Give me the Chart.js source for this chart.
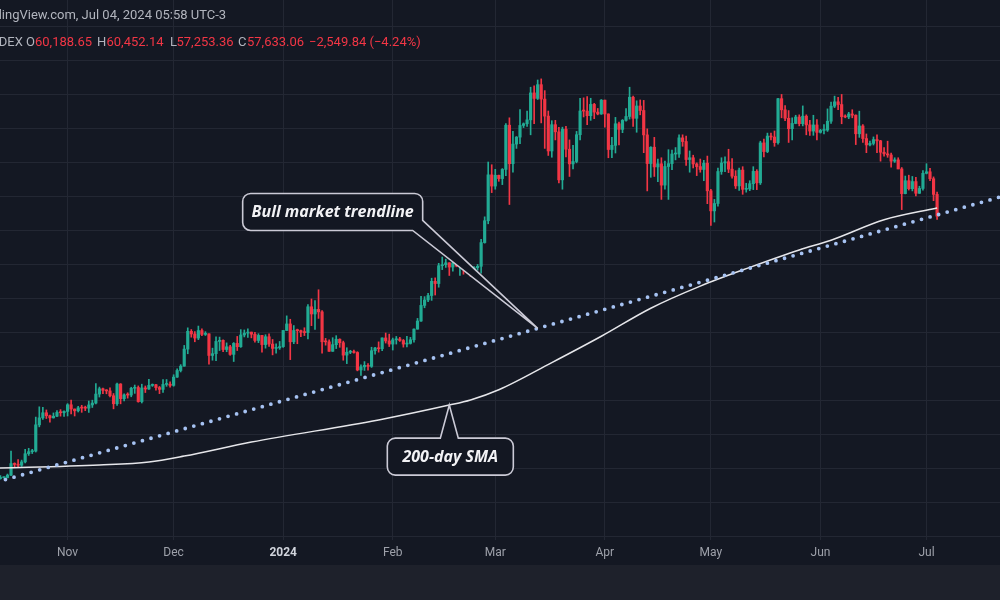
<!DOCTYPE html>
<html>
<head>
<meta charset="utf-8">
<title>BTC daily</title>
<script src="https://cdn.jsdelivr.net/npm/chart.js@4.4.1/dist/chart.umd.min.js"></script>
<style>
  html, body { margin: 0; padding: 0; background: #1e212b; }
  #wrap { position: relative; width: 1000px; height: 565px; background: #141823; overflow: hidden; }
  #box { position: absolute; left: 0; top: 0; width: 1000px; height: 565px; }
  .hdr { position: absolute; font-family: Roboto, sans-serif; font-size: 13px; color: #b2b5be; white-space: nowrap; }
  .red { color: #f23645; }
</style>
</head>
<body>
<div id="wrap">
  <div id="box"><canvas id="chart"></canvas></div>
  <div class="hdr" style="left:-24px; top:7px;">TradingView.com, Jul 04, 2024 05:58 UTC-3</div>
  <div class="hdr" style="left:-14px; top:34px;">INDEX</div>
  <div class="hdr" style="left:26px; top:34px;">O</div>
  <div class="hdr red" style="left:35px; top:34px;">60,188.65</div>
  <div class="hdr" style="left:97px; top:34px;">H</div>
  <div class="hdr red" style="left:106.5px; top:34px;">60,452.14</div>
  <div class="hdr" style="left:170px; top:34px;">L</div>
  <div class="hdr red" style="left:176.5px; top:34px;">57,253.36</div>
  <div class="hdr" style="left:238px; top:34px;">C</div>
  <div class="hdr red" style="left:247px; top:34px;">57,633.06</div>
  <div class="hdr red" style="left:309px; top:34px;">−2,549.84 (−4.24%)</div>
</div>
<script>
// daily candles, prices in thousands of USD, first candle 2023-10-13
const firstCandle = '2023-10-13';

const opens = [
  // Oct
  26.76, 26.86, 26.87, 27.16, 28.52, 28.42, 28.33, 28.72, 29.68, 29.92, 29.99, 33.08, 33.90, 34.50, 34.15, 33.90, 34.09, 34.54, 34.50,
  // Nov
  34.66, 35.44, 34.94, 34.73, 35.08, 35.05, 35.04, 35.42, 35.64, 36.70, 37.32, 37.14, 37.07, 36.50, 35.56, 37.88, 36.16, 36.60, 36.58, 37.38, 37.47, 35.81, 37.42, 37.29, 37.72, 37.80, 37.46, 37.25, 37.83, 37.86,
  // Dec
  37.72, 38.69, 39.47, 39.98, 41.99, 44.08, 43.77, 43.29, 44.17, 43.72, 43.79, 41.24, 41.45, 42.89, 43.02, 41.94, 42.26, 41.37, 42.66, 42.27, 43.65, 43.87, 43.99, 43.74, 43.01, 43.60, 42.52, 43.44, 42.58, 42.07, 42.14,
  // Jan
  42.28, 44.18, 44.95, 42.85, 44.18, 44.16, 43.97, 43.93, 46.97, 46.12, 46.66, 46.37, 42.85, 42.84, 41.73, 42.51, 43.15, 42.74, 41.28, 41.62, 41.67, 41.59, 39.53, 39.90, 40.08, 39.96, 41.80, 42.12, 42.03, 43.30, 42.95,
  // Feb
  42.58, 43.08, 43.19, 43.00, 42.58, 42.66, 43.09, 44.34, 45.29, 47.13, 47.77, 48.29, 49.96, 49.70, 51.80, 51.92, 52.14, 51.64, 52.13, 51.78, 52.28, 51.86, 51.30, 50.74, 51.57, 51.73, 54.52, 57.09, 62.49,
  // Mar
  61.17, 62.44, 62.05, 63.13, 68.33, 63.80, 66.11, 66.93, 68.30, 68.50, 68.96, 72.13, 71.48, 73.10, 71.40, 69.40, 65.30, 68.39, 67.55, 61.90, 67.86, 65.50, 63.78, 64.06, 67.21, 70.00, 69.99, 69.45, 70.78, 69.87, 69.65,
  // Apr
  71.28, 69.65, 65.47, 65.96, 68.50, 67.84, 68.90, 69.36, 71.62, 69.14, 70.59, 70.06, 67.19, 63.82, 65.74, 63.42, 63.79, 61.28, 63.47, 63.81, 64.94, 64.94, 66.84, 66.41, 64.29, 64.50, 63.77, 63.46, 63.12, 63.86,
  // May
  60.61, 58.25, 59.12, 62.88, 63.89, 64.03, 63.16, 62.33, 61.19, 63.05, 60.79, 60.83, 61.45, 62.90, 61.55, 66.25, 65.23, 67.05, 66.94, 66.28, 71.45, 70.14, 69.14, 67.92, 68.54, 69.29, 68.51, 69.39, 68.37, 67.64, 68.36,
  // Jun
  67.49, 67.71, 67.76, 68.80, 70.57, 71.08, 70.76, 69.34, 69.30, 69.65, 69.51, 67.32, 68.24, 66.76, 66.01, 66.19, 66.64, 66.49, 65.15, 64.96, 64.83, 64.10, 64.25, 63.18, 60.28, 61.80, 60.86, 61.70, 60.32, 60.89,
  // Jul
  62.67, 62.85, 62.03, 60.19
];
const highs = [
  27.10, 26.97, 27.29, 30.00, 28.61, 28.98, 28.93, 30.21, 30.32, 30.20, 33.99, 35.20, 35.13, 34.83, 34.24, 34.48, 34.75, 34.87, 34.72,
  35.57, 35.98, 34.94, 35.26, 35.38, 35.28, 35.88, 35.98, 37.93, 37.52, 37.41, 37.22, 37.42, 36.76, 37.98, 37.93, 36.73, 36.85, 37.50, 37.76, 37.66, 37.86, 37.65, 38.42, 37.89, 37.84, 37.60, 38.40, 38.41, 38.15,
  38.97, 39.68, 40.16, 42.42, 44.49, 44.29, 44.05, 44.70, 44.37, 44.04, 43.80, 42.10, 43.43, 43.40, 43.09, 42.72, 42.43, 42.76, 43.48, 44.28, 44.24, 44.37, 43.99, 43.95, 43.80, 43.60, 43.68, 43.80, 43.12, 42.61, 42.89,
  44.19, 45.90, 45.50, 44.76, 44.34, 44.23, 44.50, 47.22, 47.89, 47.70, 48.97, 46.52, 43.25, 43.07, 43.33, 43.57, 43.20, 42.93, 42.15, 41.85, 41.88, 41.68, 40.13, 40.52, 40.29, 42.21, 42.20, 42.84, 43.31, 43.88, 43.75,
  43.29, 43.48, 43.38, 43.12, 43.49, 43.37, 44.37, 45.60, 48.20, 48.16, 48.55, 50.33, 50.37, 52.08, 52.82, 52.57, 52.16, 52.36, 52.49, 52.95, 52.37, 52.02, 51.54, 51.70, 51.95, 54.90, 57.55, 64.00, 63.68,
  63.14, 62.46, 63.23, 68.51, 69.20, 67.60, 67.00, 70.17, 68.60, 69.98, 72.80, 72.95, 73.65, 73.78, 72.40, 70.00, 68.86, 68.90, 68.09, 68.10, 68.20, 66.60, 65.95, 67.60, 71.50, 71.55, 71.70, 71.50, 70.90, 70.30, 71.35,
  71.30, 69.67, 66.90, 69.25, 68.70, 69.00, 70.30, 72.80, 71.75, 71.20, 71.30, 71.25, 67.90, 65.80, 66.90, 64.35, 64.50, 64.10, 65.45, 65.40, 65.70, 67.20, 67.20, 67.05, 65.30, 64.80, 63.90, 64.35, 64.20, 64.70,
  60.80, 59.60, 63.30, 64.50, 64.60, 65.50, 64.40, 62.98, 63.30, 63.45, 61.50, 61.80, 63.45, 63.10, 66.45, 66.70, 67.40, 67.40, 67.65, 71.50, 71.95, 70.65, 70.05, 69.20, 69.50, 69.55, 70.60, 69.55, 68.90, 69.50, 69.00,
  67.85, 68.40, 70.25, 71.05, 71.75, 71.60, 71.95, 69.55, 69.85, 70.15, 69.55, 69.98, 68.40, 67.30, 66.45, 66.95, 67.20, 66.55, 65.70, 66.45, 65.05, 64.50, 64.50, 63.35, 62.35, 62.45, 62.30, 62.20, 61.15, 63.00,
  63.80, 63.25, 62.25, 60.45
];
const lows = [
  26.70, 26.81, 26.82, 27.11, 28.11, 28.14, 28.18, 28.60, 29.48, 29.70, 29.88, 32.84, 33.71, 33.82, 33.40, 33.87, 34.05, 34.10, 34.08,
  34.12, 34.35, 34.12, 34.59, 34.55, 34.75, 34.54, 35.12, 35.55, 36.35, 36.74, 36.73, 36.35, 34.96, 35.36, 35.55, 35.88, 36.22, 36.38, 36.78, 35.74, 35.65, 36.88, 37.25, 37.60, 37.16, 36.75, 36.88, 37.61, 37.50,
  37.62, 38.65, 39.30, 39.98, 41.44, 43.39, 42.85, 43.10, 43.57, 43.59, 40.23, 40.68, 40.64, 41.82, 41.70, 41.68, 41.26, 40.53, 41.82, 42.19, 43.42, 43.35, 43.31, 42.79, 42.75, 41.63, 42.10, 42.30, 41.31, 41.52, 41.96,
  42.19, 44.17, 40.75, 42.63, 42.62, 43.45, 43.58, 43.20, 44.75, 44.30, 45.60, 41.50, 42.45, 41.72, 41.72, 42.05, 42.20, 40.68, 40.28, 41.45, 41.50, 39.43, 38.90, 39.48, 39.51, 39.83, 41.40, 41.63, 41.80, 42.70, 42.29,
  41.88, 42.58, 42.88, 42.22, 42.26, 42.58, 42.79, 44.33, 45.25, 46.85, 47.56, 47.72, 48.35, 49.27, 51.34, 51.60, 50.65, 51.17, 51.67, 50.65, 50.80, 50.94, 50.53, 50.57, 51.28, 50.91, 54.45, 56.73, 60.40,
  60.80, 61.73, 61.34, 62.40, 59.00, 62.80, 65.60, 66.16, 68.05, 68.20, 67.20, 68.50, 71.35, 68.60, 65.60, 64.77, 64.56, 66.60, 61.55, 60.80, 64.60, 62.30, 63.20, 63.90, 66.60, 69.30, 68.38, 68.90, 69.10, 69.55, 69.60,
  68.10, 64.50, 64.50, 65.06, 66.00, 67.45, 68.80, 69.05, 68.20, 67.50, 69.55, 65.10, 60.60, 62.20, 62.30, 61.70, 59.60, 60.80, 59.60, 63.10, 64.25, 64.55, 65.85, 63.60, 62.80, 63.30, 62.40, 62.80, 61.80, 59.10,
  56.55, 56.94, 58.80, 62.55, 62.85, 62.75, 62.10, 60.88, 60.65, 60.20, 60.45, 60.63, 60.75, 60.75, 61.35, 64.60, 65.10, 66.60, 65.85, 66.10, 69.20, 68.85, 66.30, 66.60, 68.50, 68.25, 68.25, 67.20, 67.12, 67.14, 66.60,
  67.40, 67.30, 67.60, 68.55, 70.40, 70.15, 68.50, 69.20, 69.10, 69.20, 66.05, 66.90, 66.30, 65.10, 65.88, 66.00, 65.10, 64.10, 64.70, 64.55, 63.40, 63.95, 63.20, 58.40, 60.25, 60.70, 60.60, 60.00, 60.30, 60.70,
  62.60, 61.80, 59.45, 57.25
];
const closes = [
  26.86, 26.87, 27.16, 28.52, 28.42, 28.33, 28.72, 29.68, 29.92, 29.99, 33.08, 33.90, 34.50, 34.15, 33.90, 34.09, 34.54, 34.50, 34.66,
  35.44, 34.94, 34.73, 35.08, 35.05, 35.04, 35.42, 35.64, 36.70, 37.32, 37.14, 37.07, 36.50, 35.56, 37.88, 36.16, 36.60, 36.58, 37.38, 37.47, 35.81, 37.42, 37.29, 37.72, 37.80, 37.46, 37.25, 37.83, 37.86, 37.72,
  38.69, 39.47, 39.98, 41.99, 44.08, 43.77, 43.29, 44.17, 43.72, 43.79, 41.24, 41.45, 42.89, 43.02, 41.94, 42.26, 41.37, 42.66, 42.27, 43.65, 43.87, 43.99, 43.74, 43.01, 43.60, 42.52, 43.44, 42.58, 42.07, 42.14, 42.28,
  44.18, 44.95, 42.85, 44.18, 44.16, 43.97, 43.93, 46.97, 46.12, 46.66, 46.37, 42.85, 42.84, 41.73, 42.51, 43.15, 42.74, 41.28, 41.62, 41.67, 41.59, 39.53, 39.90, 40.08, 39.96, 41.80, 42.12, 42.03, 43.30, 42.95, 42.58,
  43.08, 43.19, 43.00, 42.58, 42.66, 43.09, 44.34, 45.29, 47.13, 47.77, 48.29, 49.96, 49.70, 51.80, 51.92, 52.14, 51.64, 52.13, 51.78, 52.28, 51.86, 51.30, 50.74, 51.57, 51.73, 54.52, 57.09, 62.49, 61.17,
  62.44, 62.05, 63.13, 68.33, 63.80, 66.11, 66.93, 68.30, 68.50, 68.96, 72.13, 71.48, 73.10, 71.40, 69.40, 65.30, 68.39, 67.55, 61.90, 67.86, 65.50, 63.78, 64.06, 67.21, 70.00, 69.99, 69.45, 70.78, 69.87, 69.65, 71.28,
  69.65, 65.47, 65.96, 68.50, 67.84, 68.90, 69.36, 71.62, 69.14, 70.59, 70.06, 67.19, 63.82, 65.74, 63.42, 63.79, 61.28, 63.47, 63.81, 64.94, 64.94, 66.84, 66.41, 64.29, 64.50, 63.77, 63.46, 63.12, 63.86, 60.61,
  58.25, 59.12, 62.88, 63.89, 64.03, 63.16, 62.33, 61.19, 63.05, 60.79, 60.83, 61.45, 62.90, 61.55, 66.25, 65.23, 67.05, 66.94, 66.28, 71.45, 70.14, 69.14, 67.92, 68.54, 69.29, 68.51, 69.39, 68.37, 67.64, 68.36, 67.49,
  67.71, 67.76, 68.80, 70.57, 71.08, 70.76, 69.34, 69.30, 69.65, 69.51, 67.32, 68.24, 66.76, 66.01, 66.19, 66.64, 66.49, 65.15, 64.96, 64.83, 64.10, 64.25, 63.18, 60.28, 61.80, 60.86, 61.70, 60.32, 60.89, 62.67,
  62.85, 62.03, 60.19, 57.63
];

// 200-day SMA at a few dates
const smaDates = ['2023-10-11', '2023-11-10', '2023-11-24', '2023-12-04', '2023-12-23', '2024-01-28', '2024-02-17', '2024-02-23', '2024-03-02', '2024-03-17', '2024-03-31', '2024-04-14', '2024-04-28', '2024-05-12', '2024-05-26', '2024-06-04', '2024-06-19', '2024-07-04'];
const smaValues = [27.97, 28.35, 28.7, 29.4, 31.05, 33.65, 35.4, 36.0, 37.2, 40.4, 43.5, 46.8, 49.4, 51.6, 53.65, 54.8, 57.2, 58.6];

// bull market trendline end points
const trendDates = ['2023-10-12', '2024-07-22'];
const trendValues = [26.35, 59.9];

// x axis
const tickDates = ['2023-11-01', '2023-12-01', '2024-01-01', '2024-02-01', '2024-03-01', '2024-04-01', '2024-05-01', '2024-06-01', '2024-07-01'];
const tickLabels = ['Nov', 'Dec', '2024', 'Feb', 'Mar', 'Apr', 'May', 'Jun', 'Jul'];
const priceLines = [20, 24, 28, 32, 36, 40, 44, 48, 52, 56, 60, 64, 68, 72, 76, 80];

// callouts: label, anchor date, anchor price
const calloutLabels = ['Bull market trendline', '200-day SMA'];
const calloutDates = ['2024-03-13', '2024-02-17'];
const calloutValues = [44.42, 35.4];

const GREEN = '#22ab94';
const RED = '#f23645';

const dayOf = s => (Date.parse(s) - Date.parse('2023-10-01')) / 864e5;
const day0 = dayOf(firstCandle);
const colorOf = i => closes[i] >= opens[i] ? GREEN : RED;

const wicks = lows.map((l, i) => ({ x: day0 + i, y: [l, highs[i]] }));
const bodies = opens.map((o, i) => ({ x: day0 + i, y: [o, closes[i]] }));
const sma = smaDates.map((d, i) => ({ x: dayOf(d), y: smaValues[i] }));
const trend = trendDates.map((d, i) => ({ x: dayOf(d), y: trendValues[i] }));
const tickDays = tickDates.map(dayOf);

function roundedBox(ctx, l, t, r, b, rad, tail) {
  ctx.beginPath();
  ctx.moveTo(l + rad, t);
  if (tail.side === 'top') {
    ctx.lineTo(tail.a, t);
    ctx.lineTo(tail.tip[0], tail.tip[1]);
    ctx.lineTo(tail.b, t);
  }
  ctx.lineTo(r - rad, t);
  ctx.arcTo(r, t, r, t + rad, rad);
  if (tail.side === 'corner') {
    ctx.lineTo(r, tail.a);
    ctx.lineTo(tail.tip[0], tail.tip[1]);
    ctx.lineTo(tail.b, b);
  } else {
    ctx.lineTo(r, b - rad);
    ctx.arcTo(r, b, r - rad, b, rad);
  }
  ctx.lineTo(l + rad, b);
  ctx.arcTo(l, b, l, b - rad, rad);
  ctx.lineTo(l, t + rad);
  ctx.arcTo(l, t, l + rad, t, rad);
  ctx.closePath();
}

const callouts = {
  id: 'callouts',
  afterDraw(chart) {
    const { ctx } = chart;
    const x = chart.scales.x, y = chart.scales.y;
    ctx.save();
    ctx.lineWidth = 1.6;
    ctx.strokeStyle = '#cbcad6';
    ctx.font = 'italic bold 16px "Open Sans", sans-serif';
    ctx.textAlign = 'center';
    ctx.textBaseline = 'middle';

    // trendline callout, tail from the lower right corner
    let tx = x.getPixelForValue(dayOf(calloutDates[0]));
    let ty = y.getPixelForValue(calloutValues[0]);
    let l = tx - 295, r = tx - 115, t = ty - 135, b = ty - 98;
    roundedBox(ctx, l, t, r, b, 8, { side: 'corner', a: ty - 108, b: tx - 125, tip: [tx, ty] });
    ctx.fillStyle = '#131722';
    ctx.fill();
    ctx.stroke();
    ctx.fillStyle = '#f2f2f5';
    ctx.fillText(calloutLabels[0], (l + r) / 2, (t + b) / 2 + 1);

    // SMA callout, tail from the top edge
    tx = x.getPixelForValue(dayOf(calloutDates[1]));
    ty = y.getPixelForValue(calloutValues[1]);
    l = tx - 62; r = tx + 64; t = ty + 33; b = ty + 70;
    roundedBox(ctx, l, t, r, b, 8, { side: 'top', a: tx - 9, b: tx + 9, tip: [tx, ty] });
    ctx.fillStyle = '#131722';
    ctx.fill();
    ctx.stroke();
    ctx.fillStyle = '#f2f2f5';
    ctx.fillText(calloutLabels[1], (l + r) / 2, (t + b) / 2 + 1);
    ctx.restore();
  }
};

new Chart(document.getElementById('chart'), {
  type: 'bar',
  data: {
    datasets: [
      {
        type: 'line',
        data: trend,
        borderColor: '#a6c2f2',
        borderWidth: 3.8,
        borderDash: [0, 8.9],
        borderCapStyle: 'round',
        pointRadius: 0,
        order: 0
      },
      {
        type: 'line',
        data: sma,
        borderColor: '#e6e6ea',
        borderWidth: 1.5,
        pointRadius: 0,
        cubicInterpolationMode: 'monotone',
        order: 0
      },
      {
        data: wicks,
        backgroundColor: ctx => colorOf(ctx.dataIndex),
        barThickness: 1,
        grouped: false,
        order: 1
      },
      {
        data: bodies,
        backgroundColor: ctx => colorOf(ctx.dataIndex),
        barThickness: 2.5,
        minBarLength: 1,
        grouped: false,
        order: 1
      }
    ]
  },
  options: {
    responsive: true,
    maintainAspectRatio: false,
    animation: false,
    layout: { padding: 0 },
    plugins: { legend: { display: false }, tooltip: { enabled: false } },
    scales: {
      x: {
        type: 'linear',
        offset: false,
        min: 11.88,
        max: 294.8,
        afterBuildTicks: s => { s.ticks = tickDays.map(v => ({ value: v })); },
        afterFit: s => { s.height = 25; },
        grid: { color: '#232733', drawTicks: false, offset: false },
        border: { display: false },
        ticks: {
          padding: 6,
          maxRotation: 0,
          autoSkip: false,
          callback: v => tickLabels[tickDays.indexOf(v)],
          color: c => tickLabels[c.index] === '2024' ? '#d1d4dc' : '#9ea1aa',
          font: c => ({ family: 'Roboto', size: 12, weight: tickLabels[c.index] === '2024' ? 'bold' : 'normal' })
        }
      },
      y: {
        type: 'linear',
        min: 19.53,
        max: 83.06,
        afterBuildTicks: s => { s.ticks = priceLines.map(v => ({ value: v })); },
        afterFit: s => { s.width = 0; },
        grid: { color: '#232733', drawTicks: false },
        border: { display: false },
        ticks: { display: false }
      }
    }
  },
  plugins: [callouts]
});
</script>
</body>
</html>
